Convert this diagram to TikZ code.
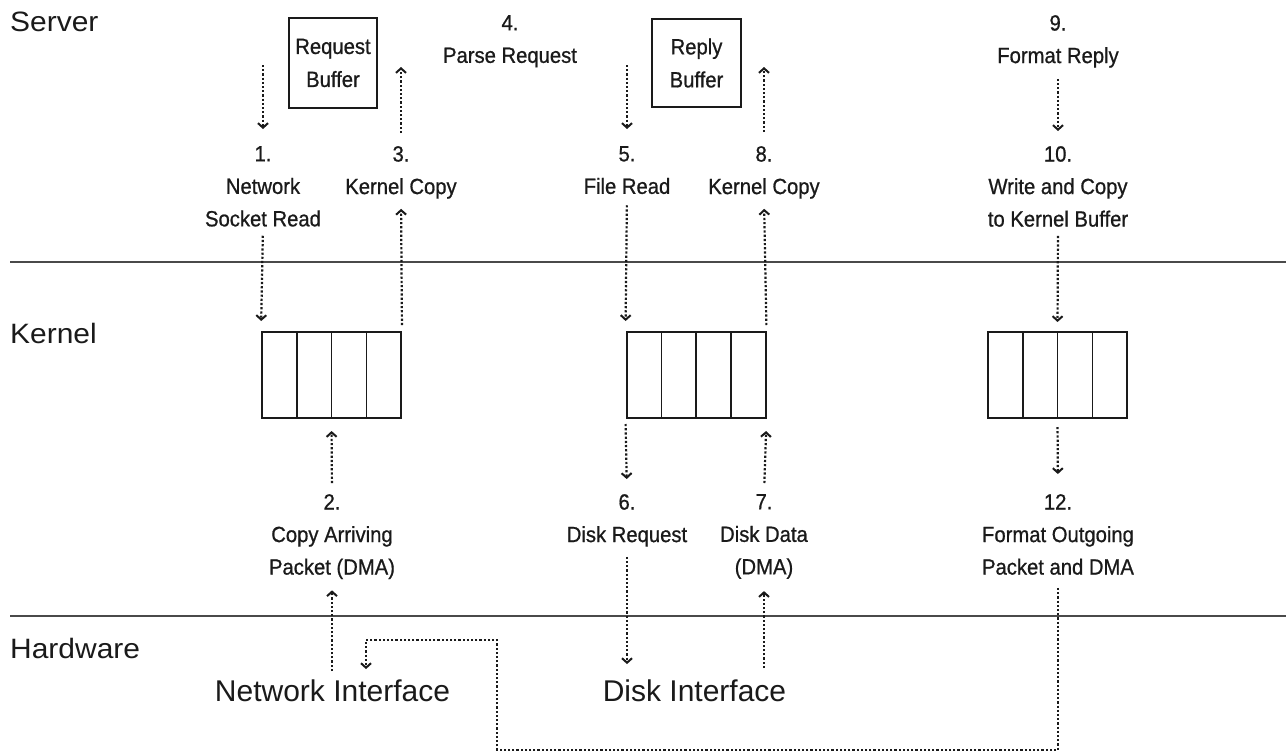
\documentclass[tikz,border=0pt]{standalone}
\usepackage{fontspec}
\setmainfont{Liberation Sans}
\newfontfamily\labelfont{Liberation Sans}[FakeStretch=0.92,FakeBold=0.8]
\newfontfamily\zonefont{Liberation Sans}[FakeStretch=1.07]
\usepackage{xcolor}
\usetikzlibrary{arrows.meta,positioning,calc}
\definecolor{ink}{HTML}{1A1A1A}
\definecolor{rulegray}{HTML}{4A4A4A}

\begin{document}
\begin{tikzpicture}[
    x=1pt, y=-1pt,
    zone/.style={anchor=base west, inner sep=0pt, text=ink, font=\zonefont\fontsize{28}{32}\selectfont},
    device/.style={anchor=base, inner sep=0pt, text=ink, font=\fontsize{30}{34}\selectfont},
    lbl/.style={anchor=north, inner sep=0pt, align=center, text=ink, font=\labelfont\fontsize{22}{32.5}\selectfont},
    bufbox/.style={rectangle, draw=ink, line width=2pt, align=center, inner sep=0pt, text=ink,
        font=\labelfont\fontsize{22}{33}\selectfont},
    kbufbox/.style={rectangle, draw=ink, line width=2pt, minimum width=139pt, minimum height=86pt, inner sep=0pt,
        path picture={\foreach \k in {1,2,3}
            \draw[ink, line width=1.5pt] ($(path picture bounding box.north west)!\k/4!(path picture bounding box.north east)$)
                -- ($(path picture bounding box.south west)!\k/4!(path picture bounding box.south east)$);}},
    arrow/.style={-{Straight Barb[length=4.5pt,width=10pt,line width=2pt]}, draw=ink, line width=2.2pt,
        dash pattern=on 2.2pt off 2pt, shorten <=10pt, shorten >=10pt},
    rule/.style={draw=rulegray, line width=1.6pt}
]
    \useasboundingbox (0,0) rectangle (1286,753);

    % layers
    \node[zone] (server) at (10,31) {Server};
    \node[zone] (kernel) at (10,343) {Kernel};
    \node[zone] (hardware) at (10,658) {Hardware};
    \draw[rule] (10,262) -- (1286,262);
    \draw[rule] (10,616) -- (1286,616);

    % user space buffers
    \node[bufbox, minimum width=88pt, minimum height=90pt] (reqbuf) at (333,63) {Request\\Buffer};
    \node[bufbox, minimum width=89pt, minimum height=88pt] (repbuf) at (696.5,63) {Reply\\Buffer};

    % kernel buffers
    \node[kbufbox] (kbuf1) at (331.5,375) {};
    \node[kbufbox] (kbuf2) at (696,375) {};
    \node[kbufbox] (kbuf3) at (1057.5,375) {};

    % devices
    \node[device] (netif) at (332.5,701) {Network Interface};
    \node[device] (diskif) at (694.5,701) {Disk Interface};

    % step labels
    \node[lbl] (s1) at (263,146) {1.\\Network\\Socket Read};
    \node[lbl] (s3) at (401,146) {3.\\Kernel Copy};
    \node[lbl] (s4) at (510,15) {4.\\Parse Request};
    \node[lbl] (s5) at (627,146) {5.\\File Read};
    \node[lbl] (s8) at (764,146) {8.\\Kernel Copy};
    \node[lbl] (s9) at (1058,15) {9.\\Format Reply};
    \node[lbl] (s10) at (1058,146) {10.\\Write and Copy\\to Kernel Buffer};
    \node[lbl] (s2) at (332,494) {2.\\Copy Arriving\\Packet (DMA)};
    \node[lbl] (s6) at (627,494) {6.\\Disk Request};
    \node[lbl] (s7) at (764,494) {7.\\Disk Data\\(DMA)};
    \node[lbl] (s12) at (1058,494) {12.\\Format Outgoing\\Packet and DMA};

    % free ends in the server layer
    \coordinate (in1) at (263,65);
    \coordinate (out3) at (401,57);
    \coordinate (in5) at (627,65);
    \coordinate (out8) at (764,57);
    \coordinate (wireA) at (497,750);
    \coordinate (wireB) at (366,640);

    % server layer
    \draw[arrow, shorten <=0pt, shorten >=17pt] (in1) -- (s1.north);
    \draw[arrow, shorten <=13pt] (s3.north) -- (out3);
    \draw[arrow, shorten <=0pt, shorten >=17pt] (in5) -- (s5.north);
    \draw[arrow, shorten <=14pt] (s8.north) -- (out8);
    \draw[arrow, shorten <=11pt, shorten >=15pt] (s9.south) -- (s10.north);

    % into and out of the kernel buffers
    \draw[arrow, shorten <=9pt] (s1.south) -- (kbuf1.north west);
    \draw[arrow, shorten <=6pt] (kbuf1.north east) -- (s3.south);
    \draw[arrow, shorten <=11pt] (s5.south) -- (kbuf2.north west);
    \draw[arrow, shorten <=6pt] (kbuf2.north east) -- (s8.south);
    \draw[arrow, shorten <=9pt, shorten >=9pt] (s10.south) -- (kbuf3.north);
    \draw[arrow, shorten <=11pt, shorten >=12pt] (s2.north) -- (kbuf1.south);
    \draw[arrow, shorten <=5pt, shorten >=15pt] (kbuf2.south west) -- (s6.north);
    \draw[arrow, shorten <=11pt, shorten >=12pt] (s7.north) -- (kbuf2.south east);
    \draw[arrow, shorten <=8pt, shorten >=20pt] (kbuf3.south) -- (s12.north);

    % hardware layer
    \draw[arrow, shorten <=8pt, shorten >=11pt] (netif.north -| s2.south) -- (s2.south);
    \draw[arrow, shorten >=15pt] (s6.south) -- (s6.south |- diskif.north);
    \draw[arrow, shorten <=11pt, shorten >=12pt] (diskif.north -| s7.south) -- (s7.south);
    \draw[arrow, shorten <=13pt] (s12.south) |- (wireA) |- (wireB) -- (wireB |- netif.north);
\end{tikzpicture}
\end{document}
